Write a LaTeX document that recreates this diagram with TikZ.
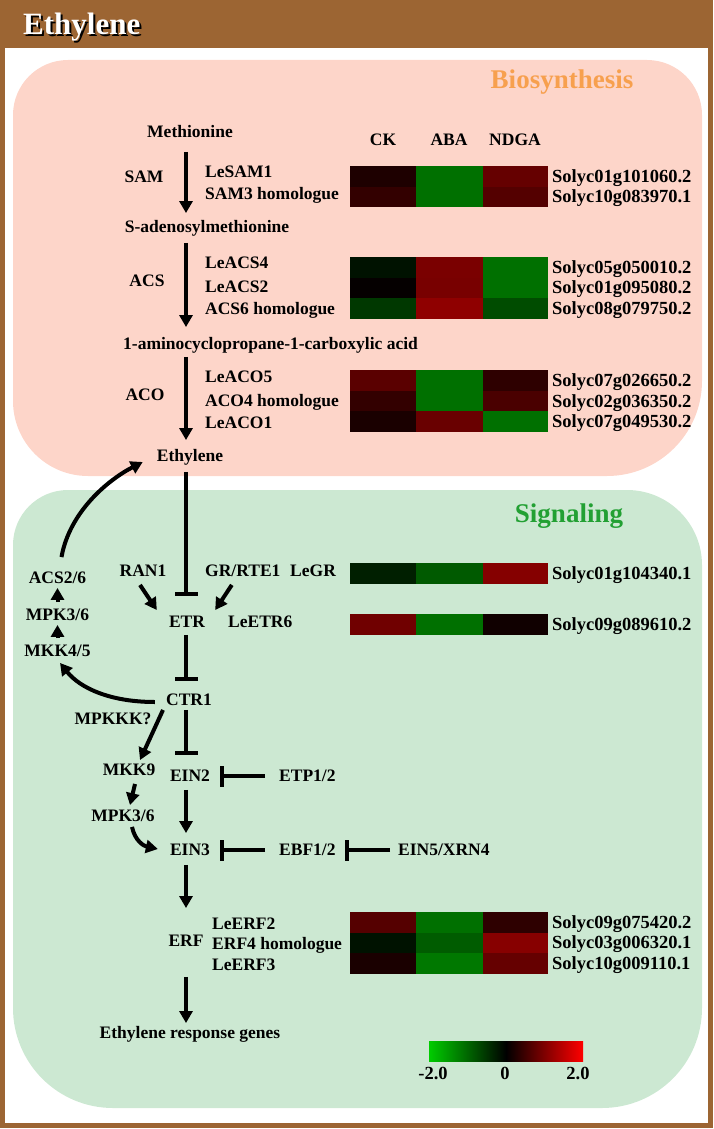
\documentclass[tikz,border=0pt]{standalone}
\usepackage{fontspec}
\setmainfont{Liberation Serif}
\usetikzlibrary{arrows.meta}
\definecolor{framebrown}{HTML}{9C6533}
\definecolor{biopink}{HTML}{FDD5C9}
\definecolor{siggreen}{HTML}{CCE8D2}
\definecolor{bioorange}{HTML}{F7A04E}
\definecolor{sigtext}{HTML}{22A033}
\definecolor{cbgreen}{HTML}{00CC00}
\definecolor{cbred}{HTML}{FF0000}
\begin{document}
\begin{tikzpicture}[x=1pt,y=-1pt,
	lbl/.style={font=\fontsize{17.5}{20}\selectfont\bfseries, inner sep=0pt, text height=11.5pt, text depth=0pt},
	gname/.style={lbl, anchor=west},
	sid/.style={font=\fontsize{18.5}{21}\selectfont\bfseries, inner sep=0pt, text height=12pt, text depth=0pt, anchor=west},
	head/.style={font=\fontsize{27}{30}\selectfont\bfseries, inner sep=0pt, text height=17.7pt, text depth=0pt},
	act/.style={line width=4pt, -{Triangle[length=12pt,width=13pt]}, shorten <=8pt, shorten >=10pt},
	inh/.style={line width=4pt, -{Bar[width=23pt,line width=4pt]}, shorten <=8pt, shorten >=10pt}]
	\useasboundingbox (0,0) rectangle (714,1129);
	% frame
	\fill[framebrown] (0,0) rectangle (713,48);
	\draw[framebrown, line width=5pt] (2.5,2.5) rectangle (710.5,1125.5);
	\fill[biopink] (13,115) .. controls (13,84.6) and (37.6,60) .. (68,60) -- (647,60)
		.. controls (677.4,60) and (702,84.6) .. (702,115) -- (702,381)
		.. controls (702,433.4) and (659.4,476) .. (607,476) -- (88,476)
		.. controls (46.6,476) and (13,442.4) .. (13,401) -- cycle;
	\fill[siggreen] (13,545) .. controls (13,514.6) and (37.6,490) .. (68,490) -- (627,490)
		.. controls (668.4,490) and (702,523.6) .. (702,565) -- (702,1008)
		.. controls (702,1063.2) and (657.2,1108) .. (602,1108) -- (113,1108)
		.. controls (57.8,1108) and (13,1063.2) .. (13,1008) -- cycle;
	%
	\node (titleshadow) at (25,26) [anchor=west, font=\fontsize{31}{36}\selectfont\bfseries, inner sep=0pt, text height=21pt, text depth=0pt] {Ethylene};
	\node (title) at (23,24) [anchor=west, font=\fontsize{31}{36}\selectfont\bfseries, inner sep=0pt, text height=21pt, text depth=0pt, white] {Ethylene};
	\node (bio) at (562,80) [head, bioorange] {Biosynthesis};
	\node (sig) at (569,514) [head, sigtext] {Signaling};
	%
	\coordinate (spine) at (186,0);
	% biosynthesis
	\node (meth) at (190,132) [lbl] {Methionine};
	\node (samE) at (144,177) [lbl] {SAM};
	\node (lesam1) at (205,172) [gname] {LeSAM1};
	\node (sam3) at (205,194) [gname] {SAM3 homologue};
	\node (sadm) at (207,227) [lbl] {S-adenosylmethionine};
	\node (acsE) at (147,281) [lbl] {ACS};
	\node (leacs4) at (205,263) [gname] {LeACS4};
	\node (leacs2) at (205,287) [gname] {LeACS2};
	\node (acs6) at (205,309) [gname] {ACS6 homologue};
	\node (acc) at (123,344) [gname] {1-aminocyclopropane-1-carboxylic acid};
	\node (acoE) at (145,395) [lbl] {ACO};
	\node (leaco5) at (205,377) [gname] {LeACO5};
	\node (aco4) at (205,401) [gname] {ACO4 homologue};
	\node (leaco1) at (205,423) [gname] {LeACO1};
	\node (ethy) at (190,456) [lbl] {Ethylene};
	% signaling
	\node (ran1) at (143,571) [lbl] {RAN1};
	\node (gr) at (205,571) [gname] {GR/RTE1};
	\node (legr) at (290,571) [gname] {LeGR};
	\node (etr) at (187,622) [lbl] {ETR};
	\node (leetr6) at (228,622) [gname] {LeETR6};
	\node (acs26) at (57.5,578) [lbl] {ACS2/6};
	\node (mpk36a) at (57.5,615) [lbl] {MPK3/6};
	\node (mkk45) at (57.5,651) [lbl] {MKK4/5};
	\node (ctr1) at (189,700) [lbl] {CTR1};
	\node (mpkkk) at (113,719) [lbl] {MPKKK?};
	\node (mkk9) at (129,770) [lbl] {MKK9};
	\node (ein2) at (190,776) [lbl] {EIN2};
	\node (etp) at (279,776) [gname] {ETP1/2};
	\node (mpk36b) at (123,816) [lbl] {MPK3/6};
	\node (ein3) at (190,850) [lbl] {EIN3};
	\node (ebf) at (279,850) [gname] {EBF1/2};
	\node (ein5) at (398,850) [gname] {EIN5/XRN4};
	\node (erf) at (186,941) [lbl] {ERF};
	\node (leerf2) at (212,924) [gname] {LeERF2};
	\node (erf4) at (212,944) [gname] {ERF4 homologue};
	\node (leerf3) at (212,965) [gname] {LeERF3};
	\node (resp) at (190,1033) [lbl] {Ethylene response genes};
	% heat maps
	\node (ck) at (383,140) [lbl] {CK};
	\node (aba) at (449,140) [lbl] {ABA};
	\node (ndga) at (515,140) [lbl] {NDGA};
	\foreach \y/\ca/\cb/\cc in {
		166/1E0000/007000/650000, 186.5/330000/007000/540000,
		257/001200/7A0000/007000, 277.5/050000/780000/007000, 298/003800/8F0000/004C00,
		370/5A0000/007000/2E0000, 390.5/330000/007000/4A0000, 411/1A0000/690000/007000,
		563/001F00/005A00/850000,
		614/700000/007000/100000,
		912/550000/007000/2E0000, 932.5/001200/005C00/870000, 953/1A0000/007800/650000}{
		\definecolor{hma}{HTML}{\ca}\definecolor{hmb}{HTML}{\cb}\definecolor{hmc}{HTML}{\cc}
		\fill[hma] (350,\y) rectangle ++(66.3,20.6);
		\fill[hmb] (416.3,\y) rectangle ++(66.3,20.6);
		\fill[hmc] (482.6,\y) rectangle ++(65.4,20.6);
	}
	\foreach \y/\s [count=\i] in {176/Solyc01g101060.2, 196/Solyc10g083970.1,
		267/Solyc05g050010.2, 287/Solyc01g095080.2, 308/Solyc08g079750.2,
		380/Solyc07g026650.2, 401/Solyc02g036350.2, 421/Solyc07g049530.2,
		573/Solyc01g104340.1, 624/Solyc09g089610.2,
		922/Solyc09g075420.2, 942/Solyc03g006320.1, 963/Solyc10g009110.1}
		\node (id\i) at (552,\y) [sid] {\s};
	% colour bar
	\shade[left color=cbgreen, right color=black] (429,1041) rectangle (506,1061);
	\shade[left color=black, right color=cbred] (506,1041) rectangle (583,1061);
	\node (cbmin) at (433,1074) [lbl, font=\fontsize{18.5}{21}\selectfont\bfseries] {-2.0};
	\node (cbzero) at (505,1074) [lbl, font=\fontsize{18.5}{21}\selectfont\bfseries] {0};
	\node (cbmax) at (578,1074) [lbl, font=\fontsize{18.5}{21}\selectfont\bfseries] {2.0};
	% main chain
	\draw[act, shorten <=14pt, shorten >=8pt] (meth.south -| spine) -- (sadm.north -| spine);
	\draw[act, shorten <=10pt, shorten >=11pt] (sadm.south -| spine) -- (acc.north -| spine);
	\draw[act, shorten <=7pt, shorten >=10pt] (acc.south -| spine) -- (ethy.north -| spine);
	\draw[inh, shorten <=10pt, shorten >=20pt] (ethy.south -| spine) -- (etr.north -| spine);
	\draw[inh, shorten <=7pt, shorten >=13pt] (etr.south -| spine) -- (ctr1.north -| spine);
	\draw[inh, shorten <=4pt, shorten >=15pt] (ctr1.south -| spine) -- (ein2.north -| spine);
	\draw[act, shorten <=8pt, shorten >=11pt] (ein2.south -| spine) -- (ein3.north -| spine);
	\draw[act, shorten <=9pt, shorten >=27pt] (ein3.south -| spine) -- (erf.north -| spine);
	\draw[act, shorten <=30pt, shorten >=4pt] (erf.south -| spine) -- (resp.north -| spine);
	% side branches
	\draw[act, shorten <=0pt, shorten >=0pt] ([xshift=-3pt,yshift=-8pt]ran1.south) -- ([xshift=-12pt,yshift=6pt]etr.north west);
	\draw[act, shorten <=0pt, shorten >=0pt] ([xshift=-11pt,yshift=-8pt]gr.south) -- ([xshift=10pt,yshift=6pt]etr.north east);
	\draw[act, shorten <=7pt, shorten >=4pt] (mkk45.north) -- (mpk36a.south);
	\draw[act, shorten <=7pt, shorten >=4pt] (mpk36a.north) -- (acs26.south);
	\draw[act, shorten <=0pt, shorten >=0pt] ([xshift=4pt,yshift=15pt]acs26.north) .. controls +(8,-45) and +(-35,18) .. ([xshift=-14pt,yshift=-6pt]ethy.west);
	\draw[act, shorten <=0pt, shorten >=0pt] ([xshift=-11pt,yshift=-2pt]ctr1.west) .. controls +(-45,0) and +(20,25) .. ([xshift=2.5pt,yshift=-6pt]mkk45.south);
	\draw[act, shorten <=0pt, shorten >=0pt] ([xshift=-26pt,yshift=-4pt]ctr1.south) -- ([xshift=11pt,yshift=4pt]mkk9.north);
	\draw[act, shorten <=0pt, shorten >=0pt] ([xshift=6pt,yshift=-8pt]mkk9.south) -- ([xshift=7pt,yshift=5pt]mpk36b.north);
	\draw[act, shorten <=0pt, shorten >=0pt] ([xshift=9pt,yshift=-5pt]mpk36b.south) .. controls +(3,14) and +(-14,-3) .. ([xshift=-12pt,yshift=1pt]ein3.west);
	\draw[inh, -{Bar[width=21pt,line width=4pt]}, shorten <=14pt, shorten >=10pt] (etp.west) -- (ein2.east);
	\draw[inh, -{Bar[width=21pt,line width=4pt]}, shorten <=14pt, shorten >=10pt] (ebf.west) -- (ein3.east);
	\draw[inh, -{Bar[width=21pt,line width=4pt]}, shorten <=8pt, shorten >=9pt] (ein5.west) -- (ebf.east);
\end{tikzpicture}
\end{document}
